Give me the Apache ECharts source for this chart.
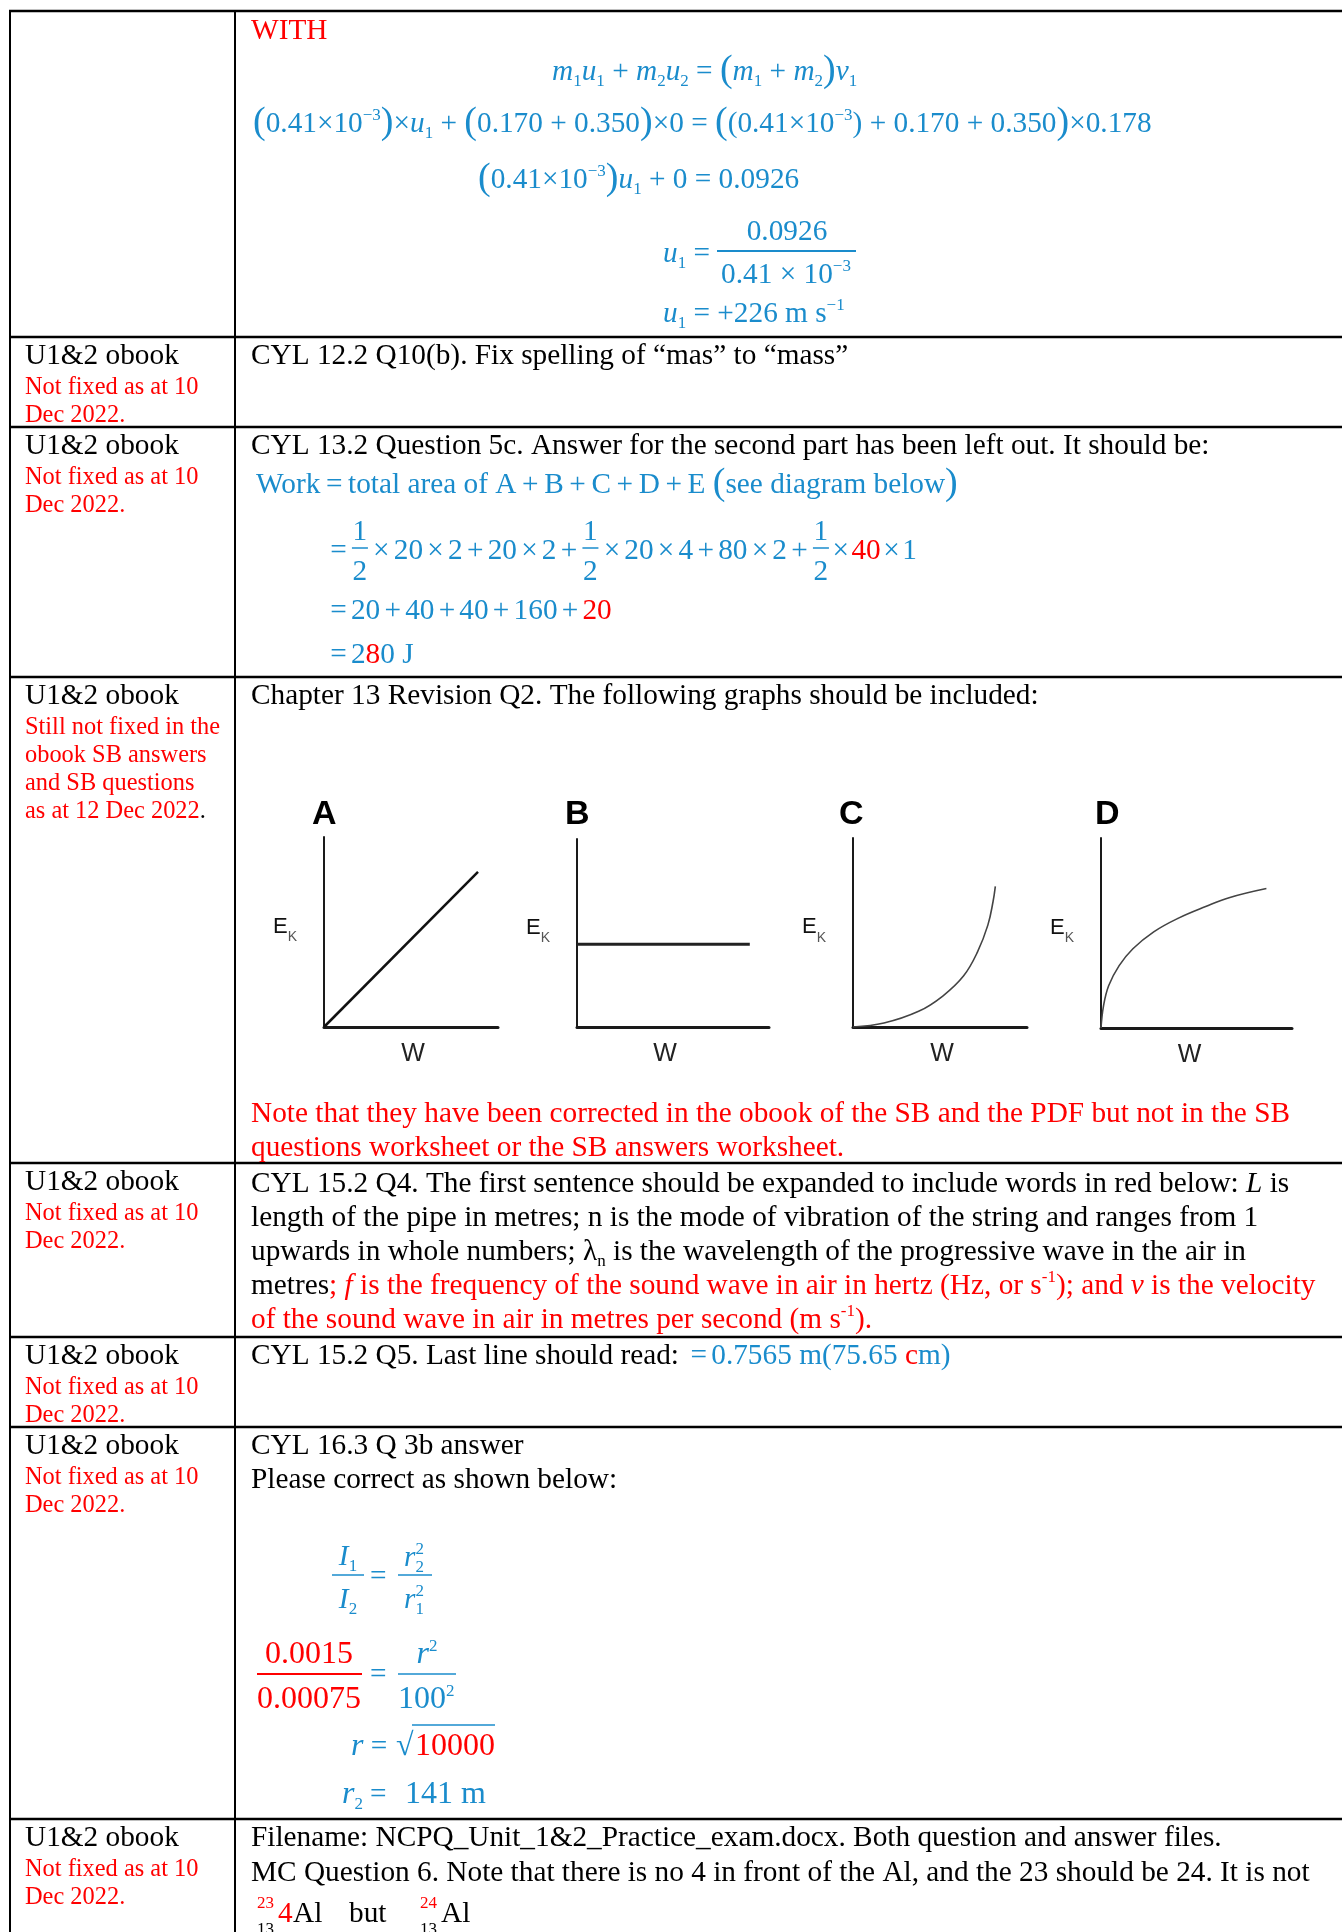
<!DOCTYPE html>
<html>
<head>
<meta charset="utf-8">
<title>U1&2 obook corrections</title>
<script src="https://cdn.jsdelivr.net/npm/echarts@6.0.0/dist/echarts.min.js"></script>
<style>
  html, body { margin: 0; padding: 0; background: #fff; }
  #chart { width: 1342px; height: 1932px; }
</style>
</head>
<body>
<div id="chart"></div>
<script>
// --- graph data (percent of each axis length) ---
const panelNames = ['A', 'B', 'C', 'D'];
const lineA = [[0, 0], [88.5, 81.6]];
const lineB = [[0, 44], [90, 44]];
const curveC = [[0, 0], [17.8, 2.1], [37.7, 8.3], [51.6, 16.4], [63.6, 27.1], [71.5, 39.6], [77.5, 53.9], [80.5, 66.4], [81.8, 74.4]];
const curveD = [[0, 0], [1.3, 11.5], [4.0, 22.2], [9.5, 32.8], [16.7, 41.7], [27.6, 50.6], [40.3, 57.7], [54.8, 63.9], [67.5, 68.7], [86.6, 73.4]];
const xName = 'W';

// layout of the four little graphs (pixels)
const panelBoxes = [
  { left: 324, top: 837, width: 174, height: 190, title: 312, wShift: 2 },
  { left: 577, top: 839, width: 192, height: 188, title: 565, wShift: -8 },
  { left: 853, top: 838, width: 174, height: 189, title: 839, wShift: 2 },
  { left: 1101, top: 838, width: 191, height: 190, title: 1095, wShift: -7 },
];
// table rules
const rowLines = [11, 337, 427, 677, 1163, 1337, 1427, 1819];

const SERIF = '"Liberation Serif", "Times New Roman", serif';
const SANS = '"Liberation Sans", Arial, sans-serif';
const BLUE = '#1a8ccc', RED = '#ff0000', INK = '#000000';
const BODY = 29.3, NOTE = 24.4, MATH = 29.3, IDX = 17;
const MID = 0.25; // distance from canvas 'middle' to the baseline, in em

// text styles
const k = { c: INK, s: BODY }, ki = { c: INK, s: BODY, i: 1 }, ksub = { c: INK, s: IDX, dy: 6 };
const r = { c: RED, s: BODY }, ri = { c: RED, s: BODY, i: 1 }, rsup = { c: RED, s: IDX, dy: -12 };
const nr = { c: RED, s: NOTE }, nk = { c: INK, s: NOTE };
const m = { c: BLUE, s: MATH }, mi = { c: BLUE, s: MATH, i: 1 }, mr = { c: RED, s: MATH };
const mo = { c: BLUE, s: MATH, ops: 4.2 }, mo2 = { c: BLUE, s: MATH, ops: 2.5 };
const mw = { c: BLUE, s: MATH, ops: 5.6 };
const msub = { c: BLUE, s: IDX, dy: 6 }, msup = { c: BLUE, s: IDX, dy: -12 };
const mp = { c: BLUE, s: 38, dy: 1 };
const big = { c: BLUE, s: 32 }, bigi = { c: BLUE, s: 32, i: 1 }, bigr = { c: RED, s: 32 };

const ctx = document.createElement('canvas').getContext('2d');
const els = [];

function fontOf(s) {
  return (s.i ? 'italic ' : '') + (s.b ? 'bold ' : '') + s.s + 'px ' + (s.f || SERIF);
}
function measure(t, s) {
  ctx.font = fontOf(s);
  return ctx.measureText(t).width;
}
function put(x, B, t, s, align) {
  els.push({
    type: 'text', silent: true,
    style: {
      x: x, y: B - MID * s.s, text: t, fill: s.c, font: fontOf(s),
      align: align || 'left', verticalAlign: 'middle',
      textAlign: align || 'left', textVerticalAlign: 'middle'
    }
  });
}
function rule(x1, x2, y, color, lw) {
  els.push({
    type: 'line', silent: true,
    shape: { x1: x1, y1: y, x2: x2, y2: y },
    style: { stroke: color, lineWidth: lw }
  });
}
function vrule(x, y1, y2, color, lw) {
  els.push({
    type: 'line', silent: true,
    shape: { x1: x, y1: y1, x2: x, y2: y2 },
    style: { stroke: color, lineWidth: lw }
  });
}
function frac(cx, B, num, den, w, s) {
  put(cx, B - 19, num, s, 'center');
  put(cx, B + 21, den, s, 'center');
  rule(cx - w / 2 + 1, cx + w / 2 - 1, B - 11, s.c, 1.5);
}
// place one run; operators get fixed side padding when s.ops is set
function place(x, B, t, s, dry) {
  if (s.ops == null) {
    if (!dry) put(x, B + (s.dy || 0), t, s);
    return measure(t, s) + (s.pad || 0);
  }
  let w = 0;
  t.split(/ ?([+×=−]) ?/).forEach(function (p) {
    if (!p) return;
    const isOp = /^[+×=−]$/.test(p);
    if (isOp) w += s.ops;
    if (!dry) put(x + w, B + (s.dy || 0), p, s);
    w += measure(p, s);
    if (isOp) w += s.ops;
  });
  return w;
}
function runs(x, B, items) {
  items.forEach(function (it) {
    if (it.frac) {
      frac(x + it.w / 2, B, it.frac[0], it.frac[1], it.w, it.st);
      x += it.w;
      return;
    }
    const w = place(x, B, it[0], it[1]);
    if (!it[1].nx) x += w;
  });
  return x;
}
function widthOf(items) {
  let w = 0;
  items.forEach(function (it) {
    if (it.frac) { w += it.w; return; }
    if (!it[1].nx) w += place(0, 0, it[0], it[1], true);
  });
  return w;
}
function runsC(cx, B, items) {
  return runs(cx - widthOf(items) / 2, B, items);
}

// ---------- table rules ----------
rowLines.forEach(function (y) { rule(9, 1342, y, INK, 2.5); });
vrule(10, 10, 1932, INK, 2);
vrule(235, 10, 1932, INK, 2);

// ---------- left column ----------
const leftRows = [
  { top: 337, red: ['Not fixed as at 10', 'Dec 2022.'] },
  { top: 427, red: ['Not fixed as at 10', 'Dec 2022.'] },
  { top: 677, red: ['Still not fixed in the', 'obook SB answers', 'and SB questions', 'as at 12 Dec 2022'], tail: '.' },
  { top: 1163, red: ['Not fixed as at 10', 'Dec 2022.'] },
  { top: 1337, red: ['Not fixed as at 10', 'Dec 2022.'] },
  { top: 1427, red: ['Not fixed as at 10', 'Dec 2022.'] },
  { top: 1819, red: ['Not fixed as at 10', 'Dec 2022.'] },
];
leftRows.forEach(function (row) {
  put(25, row.top + 27, 'U1&2 obook', k);
  row.red.forEach(function (t, i) {
    const B = row.top + 57 + 28 * i;
    const end = runs(25, B, [[t, nr]]);
    if (row.tail && i === row.red.length - 1) put(end, B, row.tail, nk);
  });
});

// ---------- row 1 : momentum working ----------
put(251, 39, 'WITH', r);
runs(552, 80, [['m', mi], ['1', msub], ['u', mi], ['1', msub], [' + ', m], ['m', mi], ['2', msub], ['u', mi], ['2', msub],
  [' = ', m], ['(', mp], ['m', mi], ['1', msub], [' + ', m], ['m', mi], ['2', msub], [')', mp], ['v', mi], ['1', msub]]);
runs(253, 132, [['(', mp], ['0.41×10', m], ['−3', msup], [')', mp], ['×', m], ['u', mi], ['1', msub], [' + ', m],
  ['(', mp], ['0.170 + 0.350', m], [')', mp], ['×0 = ', m], ['(', mp], ['(0.41×10', m], ['−3', msup], [')', m],
  [' + 0.170 + 0.350', m], [')', mp], ['×0.178', m]]);
runs(478, 188, [['(', mp], ['0.41×10', m], ['−3', msup], [')', mp], ['u', mi], ['1', msub], [' + 0 = 0.0926', m]]);
runs(663, 262, [['u', mi], ['1', msub], [' =', m]]);
put(787, 240, '0.0926', m, 'center');
rule(717, 856, 251, BLUE, 2);
runsC(786, 283, [['0.41 × 10', m], ['−3', msup]]);
runs(663, 322, [['u', mi], ['1', msub], [' = +226 m s', m], ['−1', msup]]);

// ---------- row 2 ----------
put(251, 364, 'CYL 12.2 Q10(b). Fix spelling of \u201cmas\u201d to \u201cmass\u201d', k);

// ---------- row 3 : work done ----------
put(251, 454, 'CYL 13.2 Question 5c. Answer for the second part has been left out. It should be:', k);
runs(256, 493, [['Work = total area of A + B + C + D + E ', mw], ['(', mp], ['see diagram below', m], [')', mp]]);
const half = { frac: ['1', '2'], w: 18, st: m };
runs(326, 559, [['=', mo], half, ['×20×2+20×2+', mo], half, ['×20×4+80×2+', mo], half, ['×', mo2], ['40', mr], ['×1', mo2]]);
runs(326, 619, [['=20+40+40+160+', mo], ['20', mr]]);
runs(326, 663, [['=', mo], ['2', m], ['8', mr], ['0 J', m]]);

// ---------- row 4 : graphs ----------
put(251, 704, 'Chapter 13 Revision Q2. The following graphs should be included:', k);
put(251, 1122, 'Note that they have been corrected in the obook of the SB and the PDF but not in the SB', r);
put(251, 1156, 'questions worksheet or the SB answers worksheet.', r);

// ---------- row 5 ----------
runs(251, 1192, [['CYL 15.2 Q4. The first sentence should be expanded to include words in red below: ', k], ['L', ki], [' is', k]]);
runs(251, 1226, [['length of the pipe in metres; n is the mode of vibration of the string and ranges from 1', k]]);
runs(251, 1260, [['upwards in whole numbers; \u03bb', k], ['n', ksub], [' is the wavelength of the progressive wave in the air in', k]]);
runs(251, 1294, [['metres', k], ['; ', r], ['f', ri], [' is the frequency of the sound wave in air in hertz (Hz, or s', r], ['-1', rsup],
  ['); and ', r], ['v', ri], [' is the velocity', r]]);
runs(251, 1328, [['of the sound wave in air in metres per second (m s', r], ['-1', rsup], [').', r]]);

// ---------- row 6 ----------
runs(251, 1364, [['CYL 15.2 Q5. Last line should read: ', k], ['=', mo], ['0.7565 m(75.65 ', m], ['c', mr], ['m)', m]]);

// ---------- row 7 : intensity ----------
put(251, 1454, 'CYL 16.3 Q 3b answer', k);
put(251, 1488, 'Please correct as shown below:', k);
runsC(348, 1565, [['I', mi], ['1', msub]]);
rule(332, 364, 1575, BLUE, 1.5);
runsC(348, 1608, [['I', mi], ['2', msub]]);
put(370, 1585, '=', m);
runs(404, 1566, [['r', mi], ['2', { c: BLUE, s: IDX, dy: 6, nx: 1 }], ['2', msup]]);
rule(398, 432, 1575, BLUE, 1.5);
runs(404, 1608, [['r', mi], ['1', { c: BLUE, s: IDX, dy: 6, nx: 1 }], ['2', msup]]);

put(309, 1663, '0.0015', bigr, 'center');
rule(257, 362, 1674, RED, 2);
put(309, 1708, '0.00075', bigr, 'center');
put(370, 1683, '=', m);
runsC(427, 1663, [['r', bigi], ['2', msup]]);
rule(398, 456, 1674, BLUE, 1.5);
runs(398, 1708, [['100', big], ['2', msup]]);

runs(351, 1755, [['r', bigi], [' = ', m]]);
put(396, 1755, '\u221a', big);
put(415, 1755, '10000', bigr);
rule(412, 495, 1725, BLUE, 1.5);

runs(342, 1803, [['r', bigi], ['2', msub]]);
put(370, 1803, '=', m);
put(405, 1803, '141 m', big);

// ---------- row 8 ----------
put(251, 1846, 'Filename: NCPQ_Unit_1&2_Practice_exam.docx. Both question and answer files.', k);
put(251, 1881, 'MC Question 6. Note that there is no 4 in front of the Al, and the 23 should be 24. It is not', k);
put(257, 1908, '23', { c: RED, s: 17 });
put(257, 1934, '13', { c: INK, s: 17 });
put(278, 1922, '4', r);
put(293, 1922, 'Al', k);
put(349, 1922, 'but', k);
put(420, 1908, '24', { c: RED, s: 17 });
put(420, 1934, '13', { c: INK, s: 17 });
put(441, 1922, 'Al', k);

// ---------- the four EK-W graphs ----------
const panelData = [lineA, lineB, curveC, curveD];
const panelLine = [
  { color: '#111', width: 2.5, smooth: false },
  { color: '#222', width: 3, smooth: false },
  { color: '#444', width: 1.6, smooth: 0.4 },
  { color: '#444', width: 1.6, smooth: 0.4 },
];

const option = {
  animation: false,
  backgroundColor: '#ffffff',
  title: panelNames.map(function (n, i) {
    return {
      text: n, left: panelBoxes[i].title, top: 798, padding: 0,
      textStyle: { fontFamily: SANS, fontWeight: 'bold', fontSize: 34, color: '#000' }
    };
  }),
  grid: panelBoxes.map(function (b) {
    return { left: b.left, top: b.top, width: b.width, height: b.height, containLabel: false };
  }),
  xAxis: panelBoxes.map(function (b, i) {
    const sh = b.wShift;
    return {
      gridIndex: i, type: 'value', min: 0, max: 100,
      axisLine: { show: true, onZero: false, lineStyle: { color: '#1a1a1a', width: 3 } },
      axisTick: { show: false }, axisLabel: { show: false }, splitLine: { show: false },
      name: xName, nameLocation: 'middle', nameGap: 15,
      nameTextStyle: {
        fontFamily: SANS, fontSize: 25, color: '#222',
        padding: [0, sh < 0 ? -2 * sh : 0, 0, sh > 0 ? 2 * sh : 0]
      }
    };
  }),
  yAxis: panelBoxes.map(function (b, i) {
    return {
      gridIndex: i, type: 'value', min: 0, max: 100,
      axisLine: { show: true, onZero: false, lineStyle: { color: '#1a1a1a', width: 2 } },
      axisTick: { show: false }, axisLabel: { show: false }, splitLine: { show: false },
      name: '{e|E}{k|K}', nameLocation: 'middle', nameRotate: 0, nameGap: 27,
      nameTextStyle: {
        rich: {
          e: { fontFamily: SANS, fontSize: 22, color: '#111', padding: [0, 0, 11, 0] },
          k: { fontFamily: SANS, fontSize: 14, color: '#555', padding: [11, 0, 0, 0] }
        }
      }
    };
  }),
  series: panelData.map(function (d, i) {
    return {
      type: 'line', xAxisIndex: i, yAxisIndex: i, data: d,
      symbol: 'none', silent: true, smooth: panelLine[i].smooth,
      lineStyle: { color: panelLine[i].color, width: panelLine[i].width }
    };
  }),
  graphic: { elements: els }
};

const chart = echarts.init(document.getElementById('chart'), null, { renderer: 'canvas' });
chart.setOption(option);
</script>
</body>
</html>
